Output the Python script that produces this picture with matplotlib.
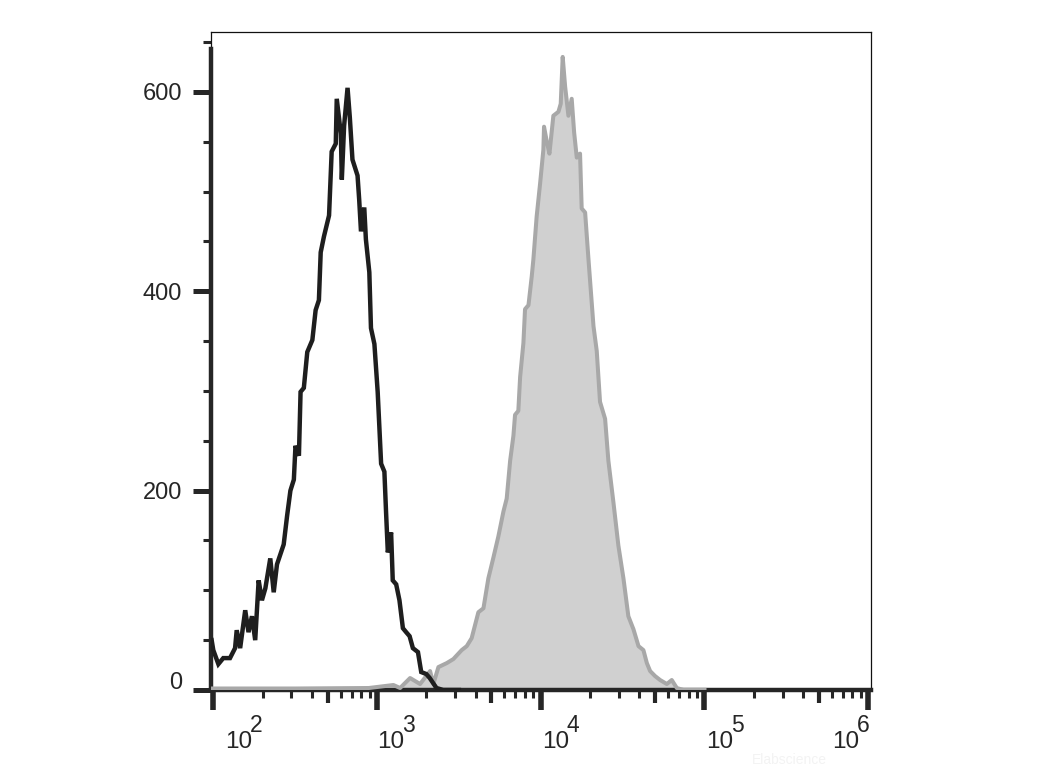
import matplotlib
matplotlib.use("Agg")
import matplotlib.pyplot as plt
from matplotlib.ticker import FixedLocator, NullFormatter
from matplotlib.transforms import ScaledTranslation, blended_transform_factory
import numpy as np

# ---- data (log10 of fluorescence, event count) ----
black_log10 = [1.99, 2.00, 2.031, 2.061, 2.102, 2.133, 2.143, 2.164, 2.195, 2.215, 2.236, 2.256,
               2.277, 2.297, 2.318, 2.348, 2.369, 2.389, 2.430, 2.451, 2.471, 2.492, 2.502, 2.523,
               2.533, 2.553, 2.574, 2.605, 2.625, 2.645, 2.656, 2.676, 2.707, 2.723, 2.748, 2.754,
               2.779, 2.785, 2.799, 2.820, 2.834, 2.850, 2.881, 2.891, 2.902, 2.922, 2.932, 2.953,
               2.963, 2.984, 3.004, 3.025, 3.045, 3.055, 3.066, 3.086, 3.096, 3.117, 3.137, 3.158,
               3.178, 3.199, 3.219, 3.250, 3.270, 3.301, 3.322, 3.363, 3.404, 3.50]
black_count = [50, 40, 26, 32, 32, 42, 60, 42, 80, 58, 74, 50,
               110, 90, 102, 132, 98, 126, 146, 175, 200, 211, 245, 235,
               299, 303, 339, 351, 381, 391, 439, 455, 476, 540, 548, 593,
               558, 512, 566, 604, 574, 532, 516, 492, 460, 484, 452, 419,
               363, 347, 299, 227, 219, 179, 138, 158, 110, 106, 90, 62,
               58, 54, 42, 38, 18, 16, 12, 2, 0, 0]

gray_log10 = [1.99, 2.5, 2.95, 3.05, 3.10, 3.141, 3.202, 3.263, 3.324, 3.344, 3.375, 3.426,
              3.466, 3.517, 3.548, 3.578, 3.619, 3.650, 3.680, 3.711, 3.741, 3.772, 3.792, 3.813,
              3.833, 3.843, 3.863, 3.874, 3.894, 3.904, 3.925, 3.945, 3.955, 3.975, 3.996, 4.016,
              4.020, 4.037, 4.053, 4.077, 4.108, 4.122, 4.134, 4.149, 4.169, 4.189, 4.204, 4.220,
              4.240, 4.250, 4.271, 4.291, 4.322, 4.342, 4.362, 4.393, 4.413, 4.444, 4.474, 4.505,
              4.535, 4.566, 4.597, 4.627, 4.648, 4.668, 4.698, 4.729, 4.770, 4.800, 4.831, 4.871, 5.0]
gray_count = [1.5, 1.5, 2, 4, 5, 2, 12, 6, 19, 6, 23, 27,
              31, 40, 44, 52, 78, 82, 112, 133, 154, 179, 192, 230,
              255, 276, 280, 314, 348, 382, 386, 415, 432, 475, 508, 542,
              565, 550, 538, 576, 580, 588, 635, 605, 576, 593, 559, 534,
              538, 483, 479, 433, 365, 340, 289, 272, 230, 188, 145, 112,
              74, 61, 44, 40, 27, 19, 14, 10, 6, 10, 2, 0, 0]

decades = [2, 3, 4, 5, 6]
y_major = [0, 200, 400, 600]
y_labels = ["0", "200", "400", "600"]

plt.rcParams['font.family'] = ['Liberation Sans', 'DejaVu Sans']
TXT = '#262626'

fig = plt.figure(figsize=(10.4, 7.8), dpi=100)
ax = fig.add_axes([211/1040, 1 - 690/780, 660/1040, 658/780])

bx = 10 ** np.array(black_log10)
gx = 10 ** np.array(gray_log10)

ax.fill_between(gx, 0, gray_count, color='#d0d0d0', lw=0, zorder=2)
ax.plot(gx, gray_count, color='#a8a8a8', lw=2.9, zorder=3)
ax.plot(bx, black_count, color='#1e1e1e', lw=3.2, zorder=4, solid_joinstyle='miter')

ax.set_xscale('log')
xmin, xmax = 10 ** 1.986, 10 ** 6.017
ymin, ymax = 0, 660
ax.set_xlim(xmin, xmax)
ax.set_ylim(ymin, ymax)

# x ticks: decades long, 5x medium, others short
maj = []
for d in range(2, 7):
    maj.append(10 ** d)
    if d < 6:
        maj.append(5 * 10 ** d)
mino = [m * 10 ** d for d in range(2, 6) for m in (2, 3, 4, 6, 7, 8, 9)]
ax.xaxis.set_major_locator(FixedLocator(maj))
ax.xaxis.set_minor_locator(FixedLocator(mino))
ax.xaxis.set_major_formatter(NullFormatter())
ax.xaxis.set_minor_formatter(NullFormatter())
ax.tick_params(axis='x', which='major', direction='out', length=14.5, width=4, color=TXT)
ax.tick_params(axis='x', which='minor', direction='out', length=5.8, width=2.2, color=TXT)
for t, v in zip(ax.xaxis.get_major_ticks(), maj):
    if round(np.log10(v), 3) % 1 != 0:
        t.tick1line.set_markersize(9.4)
        t.tick1line.set_markeredgewidth(3)

# y ticks
ax.yaxis.set_major_locator(FixedLocator(y_major))
ax.yaxis.set_minor_locator(FixedLocator([v for v in range(50, 660, 50) if v % 200 != 0]))
ax.set_yticklabels(["", ] + y_labels[1:])
ax.tick_params(axis='y', which='major', direction='out', length=13, width=3.6, color=TXT,
               labelsize=17, labelcolor=TXT, pad=8)
ax.tick_params(axis='y', which='minor', direction='out', length=5.8, width=2.2, color=TXT)

# "0" label sits slightly above its tick
ytr = blended_transform_factory(ax.transAxes, ax.transData)
ax.text(0, 0, y_labels[0], transform=ytr + ScaledTranslation(-29/100, 7/100, fig.dpi_scale_trans),
        ha='right', va='center', fontsize=17, color=TXT)

# spines
for s in ('top', 'right'):
    ax.spines[s].set_linewidth(0.9)
    ax.spines[s].set_color('#111111')
ax.spines['bottom'].set_linewidth(3.2)
ax.spines['bottom'].set_color(TXT)
ax.spines['left'].set_linewidth(3.2)
ax.spines['left'].set_color(TXT)
ax.spines['left'].set_bounds(ymin, 643)
ax.axvline(xmin, ymin=643/ymax, ymax=1, color='#111111', lw=0.9, clip_on=False)

# x decade labels: "10" plus large superscript
xtr = blended_transform_factory(ax.transData, ax.transAxes)
offsets = {2: 12, 3: 0, 4: 1, 5: 2, 6: -36}
for d in decades:
    dx = offsets[d]
    base_t = xtr + ScaledTranslation(dx/100, -58/100, fig.dpi_scale_trans)
    ax.text(10 ** d, 0, "10", transform=base_t, ha='left', va='baseline', fontsize=17.5, color=TXT)
    sup_t = xtr + ScaledTranslation((dx + 25)/100, -42/100, fig.dpi_scale_trans)
    ax.text(10 ** d, 0, str(d), transform=sup_t, ha='left', va='baseline', fontsize=16.5, color=TXT)

# faint watermark
fig.text(752/1040, 1 - 760/780, "Elabscience", fontsize=10, color='#f3f3f3', ha='left', va='center')

fig.savefig("out.png", dpi=100)
